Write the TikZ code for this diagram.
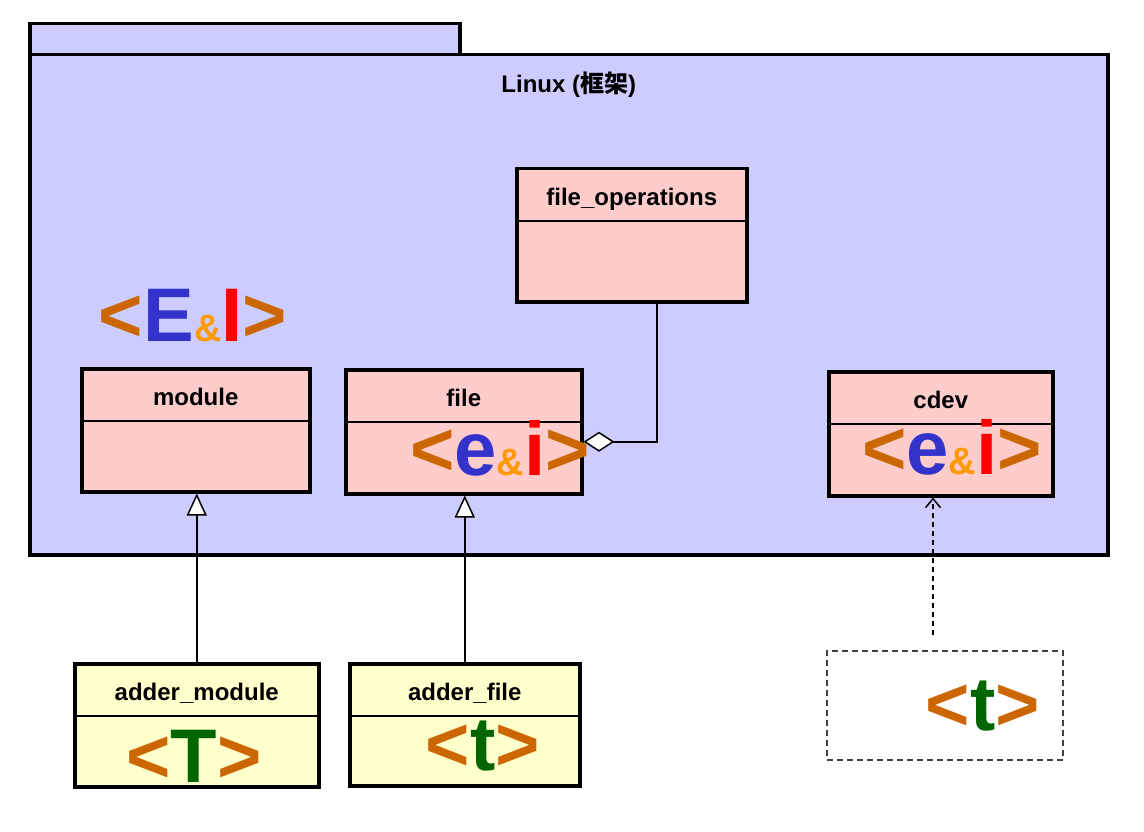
\documentclass[tikz,border=0pt]{standalone}
\usepackage{fontspec}
\setmainfont{Liberation Sans}
\newfontfamily\cjkfont{Noto Sans CJK SC}
\usetikzlibrary{arrows.meta,positioning}
\definecolor{pkgblue}{HTML}{CCCCFF}
\definecolor{classpink}{HTML}{FFCCCC}
\definecolor{adderyellow}{HTML}{FFFFCC}
\definecolor{tagorange}{HTML}{CC6600}
\definecolor{amporange}{HTML}{FF9900}
\definecolor{tagblue}{HTML}{3333CC}
\definecolor{tagred}{HTML}{FF0000}
\definecolor{taggreen}{HTML}{006600}
\newcommand{\tagOpen}{\textcolor{tagorange}{<}}
\newcommand{\tagClose}{\textcolor{tagorange}{>}}
\newcommand{\tagAmp}{{\fontsize{38}{38}\selectfont\textcolor{amporange}{\&}}}
% one UML class: name, style, x, y, width, height, title
\newcommand{\umlClass}[7]{%
  \node[#2, minimum width=#5pt, minimum height=#6pt, anchor=north west] (#1) at (#3,#4) {};
  \node[classtitle] (#1-title) at ([yshift=-38pt]#1.north) {#7};
  \draw[line width=2pt] ([yshift=-54pt]#1.north west) -- ([yshift=-54pt]#1.north east);
}

\begin{document}
\begin{tikzpicture}[x=1pt, y=-1pt]
  \tikzset{
    pkgbox/.style={draw, line width=3.5pt, fill=pkgblue, inner sep=0pt},
    classbox/.style={draw, line width=3.5pt, fill=classpink, inner sep=0pt},
    adderbox/.style={draw, line width=3.5pt, fill=adderyellow, inner sep=0pt},
    classtitle/.style={font=\fontsize{24}{28}\selectfont\bfseries, inner sep=0pt, anchor=base},
    bigtag/.style={font=\fontsize{76}{76}\selectfont\bfseries, inner sep=0pt, anchor=base},
    generalize/.style={line width=2pt, -{Triangle[open, length=22pt, width=20pt, fill=white, line width=1.5pt]}},
    aggregate/.style={line width=2pt, {Diamond[open, length=31pt, width=20pt, fill=white, line width=1.5pt]}-},
    depend/.style={line width=1.5pt, dash pattern=on 5pt off 4pt, -{Straight Barb[length=9pt, width=15pt, line width=1.5pt]}}
  }
  \useasboundingbox[fill=white] (0,0) rectangle (1144,832);

  % package
  \node[pkgbox, minimum width=430pt, minimum height=31pt, anchor=north west] (tab) at (28,22) {};
  \node[pkgbox, minimum width=1078pt, minimum height=500pt, anchor=north west] (linux) at (28,53) {};
  \node[classtitle] (linux-title) at ([yshift=-40pt]linux.north) {Linux ({\cjkfont\bfseries 框架})};

  % classes
  \umlClass{fileops}{classbox}{515}{167}{230}{133}{file\_operations}
  \umlClass{module}{classbox}{80}{367}{228}{123}{module}
  \umlClass{file}{classbox}{344}{368}{236}{124}{file}
  \umlClass{cdev}{classbox}{827}{370}{224}{124}{cdev}
  \umlClass{addermodule}{adderbox}{73}{662}{244}{123}{adder\_module}
  \umlClass{adderfile}{adderbox}{348}{662}{230}{122}{adder\_file}
  \node[draw=black!75, dash pattern=on 6pt off 4pt, line width=1.5pt, fill=white, minimum width=236pt, minimum height=109pt, anchor=north west] (device) at (826,650) {};

  % tags
  \node[bigtag] (tag-ei) at (193,341) {\tagOpen\textcolor{tagblue}{E}\tagAmp\textcolor{tagred}{I}\tagClose};
  \node[bigtag] (tag-file) at (500,475) {\tagOpen\textcolor{tagblue}{e}\tagAmp\textcolor{tagred}{i}\tagClose};
  \node[bigtag] (tag-cdev) at (952,474) {\tagOpen\textcolor{tagblue}{e}\tagAmp\textcolor{tagred}{i}\tagClose};
  \node[bigtag] (tag-module) at (194,782) {\tagOpen\textcolor{taggreen}{T}\tagClose};
  \node[bigtag] (tag-adder) at (483,770) {\tagOpen\textcolor{taggreen}{t}\tagClose};
  \node[bigtag] (tag-device) at (983,730) {\tagOpen\textcolor{taggreen}{t}\tagClose};

  % relations
  \draw[generalize] (addermodule.north) -- (addermodule.north |- module.south);
  \draw[generalize] (adderfile.north) -- (adderfile.north |- file.south);
  \draw[aggregate] ([yshift=-10pt]file.east) -| ([xshift=25pt]fileops.south);
  \coordinate (dep-start) at (933,635);
  \draw[depend] (dep-start) -- (dep-start |- cdev.south);
\end{tikzpicture}
\end{document}
